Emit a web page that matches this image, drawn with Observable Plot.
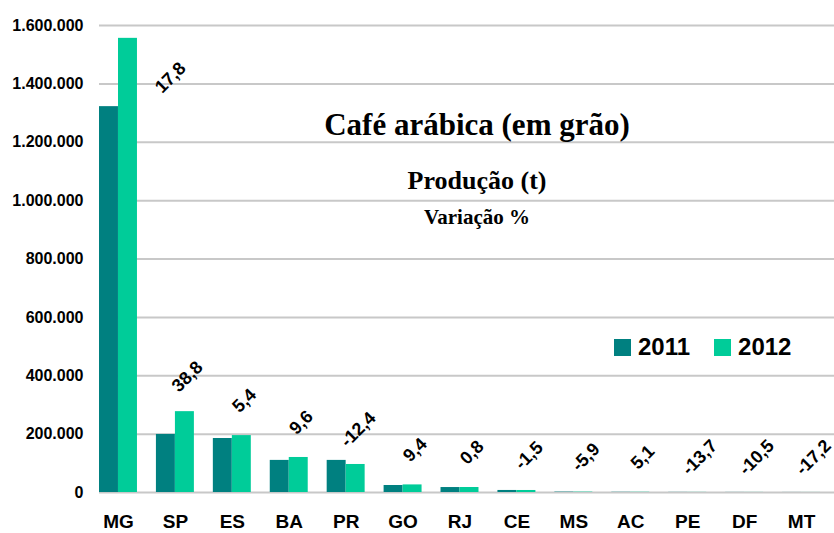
<!DOCTYPE html>
<html><head><meta charset="utf-8">
<script src="https://cdn.jsdelivr.net/npm/d3@7"></script>
<script src="https://cdn.jsdelivr.net/npm/@observablehq/plot@0.6"></script>
<style>
body{margin:0;background:#fff;}
#wrap{position:relative;width:834px;height:533px;overflow:hidden;}
.legend{position:absolute;left:614px;top:333px;display:flex;align-items:center;font:bold 24px "Liberation Sans",Arial,sans-serif;color:#000;}
.legend .sw{display:inline-block;width:17px;height:17px;margin-right:7px;}
.legend .item{display:flex;align-items:center;margin-right:24px;}
</style></head><body><div id="wrap"></div>
<script>
const states = ["MG","SP","ES","BA","PR","GO","RJ","CE","MS","AC","PE","DF","MT"];
const prod2011 = [1322000,199000,185000,110000,110000,24000,17000,7000,1300,700,400,300,200];
const prod2012 = [1556000,277000,195000,120000,96000,26000,17100,6900,1200,740,350,270,170];
const variation = [17.8,38.8,5.4,9.6,-12.4,9.4,0.8,-1.5,-5.9,5.1,-13.7,-10.5,-17.2];
const years = ["2011","2012"];
const colors = ["#008080","#00CC99"];
const yTicks = [0,200000,400000,600000,800000,1000000,1200000,1400000,1600000];
const titles = ["Café arábica (em grão)","Produção (t)","Variação %"];

const rows = states.map((s,i)=>({state:s, v2011:prod2011[i], v2012:prod2012[i], varp:variation[i]}));
const fmtY = d => d3.format(",")(d).replace(/,/g,".");
const fmtVar = v => (v<0?"-":"") + Math.abs(v).toFixed(1).replace(".",",");
const serif = "Liberation Serif, Times New Roman, serif";
const yMax = 1600000;
// labels that would overflow the top of the plot are placed beside the bars instead
const fits = d => d.v2012 < yMax * 0.9;
const labelOpts = {text:d=>fmtVar(d.varp), rotate:-45, fontSize:18, fontWeight:"bold", fill:"#000"};

const chart = Plot.plot({
  width:834, height:533, marginTop:25, marginBottom:41, marginLeft:99, marginRight:0,
  style:{fontFamily:"Liberation Sans, Arial, sans-serif", background:"#fff", color:"#000", overflow:"visible"},
  x:{domain:states, range:[99,820], paddingInner:0.333, paddingOuter:0, round:false, label:null},
  y:{domain:[0,yMax], label:null},
  marks:[
    Plot.ruleY(yTicks,{stroke:"#c8c8c8", strokeWidth:2}),
    Plot.barY(rows,{x:"state", y:"v2011", fill:colors[0], insetRight:19}),
    Plot.barY(rows,{x:"state", y:"v2012", fill:colors[1], insetLeft:19}),
    Plot.text(rows.filter(fits),{x:"state", y:"v2012", dx:12, dy:-35, ...labelOpts}),
    Plot.text(rows.filter(d=>!fits(d)),{x:"state", y:"v2011", dx:52, dy:-29, ...labelOpts}),
    Plot.axisY({ticks:yTicks, tickFormat:fmtY, tickSize:0, tickPadding:16, fontSize:16, fontWeight:"bold", label:null}),
    Plot.axisX({tickSize:0, tickPadding:22, fontSize:19, fontWeight:"bold", label:null}),
    Plot.text([titles[0]],{frameAnchor:"top", dx:10, dy:87, fontSize:31, fontWeight:"bold", fontFamily:serif}),
    Plot.text([titles[1]],{frameAnchor:"top", dx:10, dy:145, fontSize:26, fontWeight:"bold", fontFamily:serif}),
    Plot.text([titles[2]],{frameAnchor:"top", dx:10, dy:184, fontSize:21, fontWeight:"bold", fontFamily:serif})
  ]
});
const wrap = document.getElementById("wrap");
wrap.appendChild(chart);
const leg = document.createElement("div");
leg.className = "legend";
years.forEach((y,i)=>{
  const it = document.createElement("span"); it.className="item";
  const sw = document.createElement("span"); sw.className="sw"; sw.style.background = colors[i];
  it.appendChild(sw); it.appendChild(document.createTextNode(y));
  leg.appendChild(it);
});
wrap.appendChild(leg);
</script>
</body></html>
